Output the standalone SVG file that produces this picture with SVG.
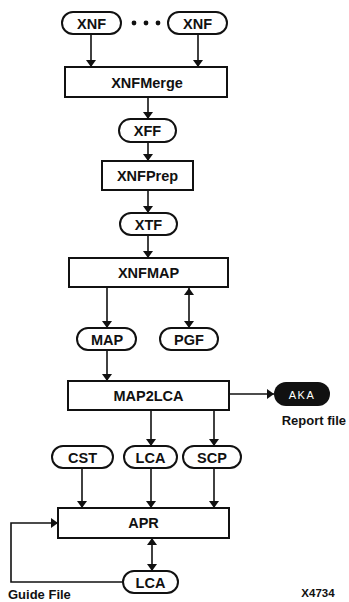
<svg xmlns="http://www.w3.org/2000/svg" width="349" height="602" viewBox="0 0 349 602">
<defs>
<marker id="ah" viewBox="0 0 10 10" refX="10" refY="5" markerWidth="7" markerHeight="10" markerUnits="userSpaceOnUse" orient="auto-start-reverse" preserveAspectRatio="none">
<path d="M0,0 L10,5 L0,10 Z" fill="#111"/>
</marker>
</defs>
<style>
.box{fill:#fff;stroke:#111;stroke-width:2}
.pill{fill:#fff;stroke:#111;stroke-width:2}
.t{font-family:"Liberation Sans",Arial,sans-serif;font-weight:bold;font-size:14.5px;fill:#111;text-anchor:middle}
.l{font-family:"Liberation Sans",Arial,sans-serif;font-weight:bold;font-size:13px;fill:#111}
.c{fill:none;stroke:#111;stroke-width:1.6}
</style>
<rect width="349" height="602" fill="#fff"/>
<g id="connectors">
<path class="c" d="M91,34 V67" marker-end="url(#ah)"/>
<path class="c" d="M198,34 V67" marker-end="url(#ah)"/>
<path class="c" d="M148,97 V119" marker-end="url(#ah)"/>
<path class="c" d="M148,142 V161" marker-end="url(#ah)"/>
<path class="c" d="M148,190 V213" marker-end="url(#ah)"/>
<path class="c" d="M148,235 V258" marker-end="url(#ah)"/>
<path class="c" d="M107,287 V328" marker-end="url(#ah)"/>
<path class="c" d="M189,288 V328" marker-start="url(#ah)" marker-end="url(#ah)"/>
<path class="c" d="M107,350 V381" marker-end="url(#ah)"/>
<path class="c" d="M229,394 H274" marker-end="url(#ah)"/>
<path class="c" d="M151,410 V446" marker-end="url(#ah)"/>
<path class="c" d="M214,410 V446" marker-end="url(#ah)"/>
<path class="c" d="M82,468 V508" marker-end="url(#ah)"/>
<path class="c" d="M151,468 V508" marker-end="url(#ah)"/>
<path class="c" d="M214,468 V508" marker-end="url(#ah)"/>
<path class="c" d="M152,538 V571" marker-start="url(#ah)" marker-end="url(#ah)"/>
<path class="c" d="M123,582 H11 V523 H58" marker-end="url(#ah)"/>
</g>
<g id="xnf1"><rect class="pill" x="62" y="12" width="59" height="22" rx="11"/><text class="t" x="91.5" y="28.5">XNF</text></g>
<g id="dots" fill="#111"><circle cx="134" cy="23" r="2.4"/><circle cx="146" cy="23" r="2.4"/><circle cx="158" cy="23" r="2.4"/></g>
<g id="xnf2"><rect class="pill" x="168" y="12" width="59" height="22" rx="11"/><text class="t" x="197.5" y="28.5">XNF</text></g>
<g id="xnfmerge"><rect class="box" x="65" y="67" width="162" height="30"/><text class="t" x="147" y="87.5">XNFMerge</text></g>
<g id="xff"><rect class="pill" x="119" y="119" width="57" height="23" rx="11.5"/><text class="t" x="147.5" y="136">XFF</text></g>
<g id="xnfprep"><rect class="box" x="102" y="161" width="91" height="29"/><text class="t" x="147.5" y="181">XNFPrep</text></g>
<g id="xtf"><rect class="pill" x="120" y="213" width="57" height="22" rx="11"/><text class="t" x="148.5" y="229.5">XTF</text></g>
<g id="xnfmap"><rect class="box" x="69" y="258" width="159" height="29"/><text class="t" x="148.5" y="278">XNFMAP</text></g>
<g id="map"><rect class="pill" x="77" y="328" width="59" height="22" rx="11"/><text class="t" x="107" y="344.5">MAP</text></g>
<g id="pgf"><rect class="pill" x="160" y="328" width="58" height="22" rx="11"/><text class="t" x="189" y="344.5">PGF</text></g>
<g id="map2lca"><rect class="box" x="68" y="381" width="161" height="29"/><text class="t" x="148.5" y="401">MAP2LCA</text></g>
<g id="aka"><rect x="274" y="382" width="56" height="24" rx="12" fill="#111"/><text x="302" y="398.5" font-family="Liberation Sans,Arial,sans-serif" font-size="11" fill="#fff" text-anchor="middle" letter-spacing="1.5">AKA</text><text class="l" x="346" y="425" text-anchor="end">Report file</text></g>
<g id="cst"><rect class="pill" x="52" y="446" width="61" height="22" rx="11"/><text class="t" x="82.5" y="462.5">CST</text></g>
<g id="lca1"><rect class="pill" x="124" y="446" width="53" height="22" rx="11"/><text class="t" x="150.5" y="462.5">LCA</text></g>
<g id="scp"><rect class="pill" x="183" y="446" width="58" height="22" rx="11"/><text class="t" x="212" y="462.5">SCP</text></g>
<g id="apr"><rect class="box" x="58" y="508" width="171" height="30"/><text class="t" x="143.5" y="528">APR</text></g>
<g id="lca2"><rect class="pill" x="123" y="571" width="55" height="22" rx="11"/><text class="t" x="150.5" y="587.5">LCA</text></g>
<text class="l" x="8" y="599">Guide File</text>
<text x="318" y="597" font-family="Liberation Sans,Arial,sans-serif" font-weight="bold" font-size="11.5" fill="#111" text-anchor="middle">X4734</text>
</svg>
